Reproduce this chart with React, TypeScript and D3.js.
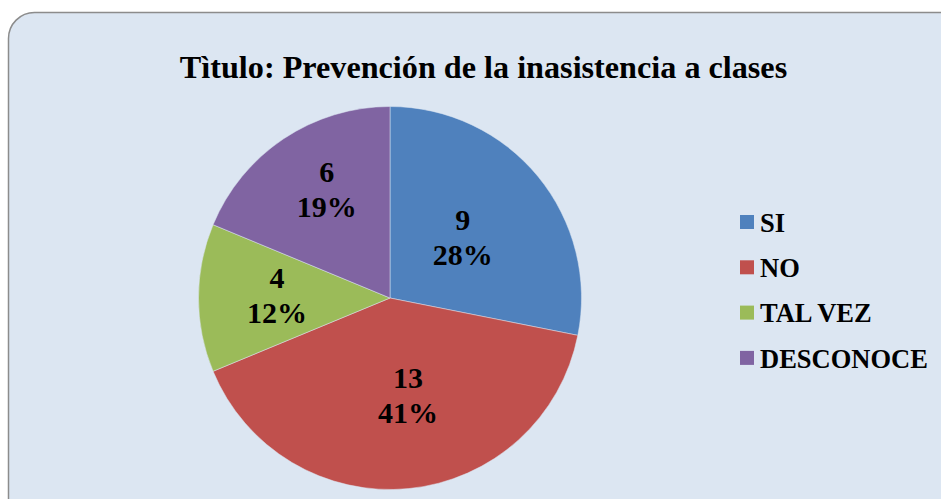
import React from "react";
import * as d3 from "d3";

const categories = ["SI", "NO", "TAL VEZ", "DESCONOCE"];
const values = [9, 13, 4, 6];
const percentLabels = ["28%", "41%", "12%", "19%"];
const colors = ["#4f81bd", "#c0504d", "#9bbb59", "#8064a2"];
const title = "Tìtulo: Prevención de la inasistencia a clases";

export default function App() {
  const W = 941, H = 499;
  const cx = 390, cy = 298, R = 191.5;
  const pie = d3.pie<number>().sort(null).value((d) => d)(values);
  const arc = d3.arc<d3.PieArcDatum<number>>().innerRadius(0).outerRadius(R);
  // label placement: [radius, angle shift in degrees]
  const labelPlace = [[94, 0], [100, -4.8], [113, 1], [125, 3.4]];
  const font = "'Liberation Serif', 'Times New Roman', serif";
  return (
    <svg width={W} height={H} style={{ position: "absolute", left: 0, top: 0 }}>
      <rect x={8.5} y={12.5} width={960} height={520} rx={26} ry={26} fill="#dce6f2" stroke="#8c8c8c" strokeWidth={1.5} />
      <text x={483.5} y={78} textAnchor="middle" fontFamily={font} fontWeight="bold" fontSize={32.2}>{title}</text>
      <g transform={`translate(${cx},${cy})`}>
        {pie.map((p, i) => (
          <path key={i} d={arc(p) || ""} fill={colors[i]} stroke="#dce6f2" strokeWidth={0.5} />
        ))}
        {pie.map((p, i) => {
          const a = (p.startAngle + p.endAngle) / 2 + (labelPlace[i][1] * Math.PI) / 180;
          const r = labelPlace[i][0];
          const x = Math.sin(a) * r;
          const y = -Math.cos(a) * r;
          return (
            <text key={i} x={x} y={y} textAnchor="middle" fontFamily={font} fontWeight="bold" fontSize={30}>
              <tspan x={x} dy={-8}>{values[i]}</tspan>
              <tspan x={x} dy={35}>{percentLabels[i]}</tspan>
            </text>
          );
        })}
      </g>
      <g>
        {categories.map((c, i) => (
          <g key={c} transform={`translate(740,${215 + i * 45.3})`}>
            <rect width={14} height={14} fill={colors[i]} />
            <text x={20} y={16.8} fontFamily={font} fontWeight="bold" fontSize={26.5}>{c}</text>
          </g>
        ))}
      </g>
    </svg>
  );
}
